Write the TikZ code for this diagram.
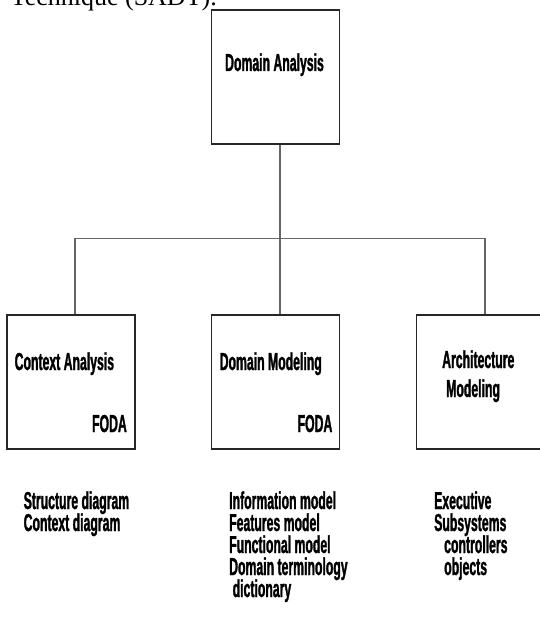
\documentclass[tikz,border=0pt]{standalone}
\usepackage{fontspec}
\setmainfont{Liberation Serif}
\newfontfamily\diagfont{Liberation Sans}[FakeStretch=0.5, FakeBold=1.2]
\usetikzlibrary{positioning, calc}
\setlength{\lineskiplimit}{-20pt}

\tikzset{
    box/.style={draw=black!85, line width=1.3pt, minimum width=128pt, minimum height=134pt, inner sep=0pt},
    link/.style={draw=black!60, line width=1.2pt},
    lbl/.style={inner sep=0pt, anchor=base west, align=left,
        font=\diagfont\bfseries\fontsize{24.5}{22}\selectfont}
}

\begin{document}
\begin{tikzpicture}[x=1pt, y=-1pt]
            \useasboundingbox (0,0) rectangle (540,631);
            \clip (0,0) rectangle (540,631);

            % text line cut off at the top
            \node[inner sep=0pt, anchor=base east, font=\fontsize{26}{26}\selectfont] (cap) at (217,6) {Technique (SADT).};

            \node[box] (top) at (275.5,77) {};
            \foreach \x/\n in {71/ctx, 275.5/dmod, 480.5/arch} {
                \node[box] (\n) at (\x,382) {};
            }

            \draw[link] ([xshift=4.5pt]top.south) -- ([xshift=4.5pt]dmod.north);
            \draw[link] ([xshift=4pt]ctx.north) -- ++(0,-76) -| ([xshift=4.5pt]arch.north);

            \node[lbl, anchor=base] (tda) at (274.5,71) {Domain Analysis};
            \node[lbl] (tca) at (14.5,370) {Context Analysis};
            \node[lbl, anchor=base east] (fca) at (127,432) {FODA};
            \node[lbl] (tdm) at (219.5,370) {Domain Modeling};
            \node[lbl, anchor=base east] (fdm) at (332.5,432) {FODA};
            % base anchor = last line
            \node[lbl] (tam) at (442,397) {Architecture\\[7pt]\hspace*{4pt}Modeling};

            % lists below the boxes
            \node[lbl] (lca) at (23.5,531) {Structure diagram\\Context diagram};
            \node[lbl] (ldm) at (229,597) {Information model\\Features model\\Functional model\\Domain terminology\\\hspace*{3.5pt}dictionary};
            \node[lbl] (lam) at (434,575) {Executive\\Subsystems\\\hspace*{10pt}controllers\\\hspace*{10pt}objects};
        \end{tikzpicture}
\end{document}
